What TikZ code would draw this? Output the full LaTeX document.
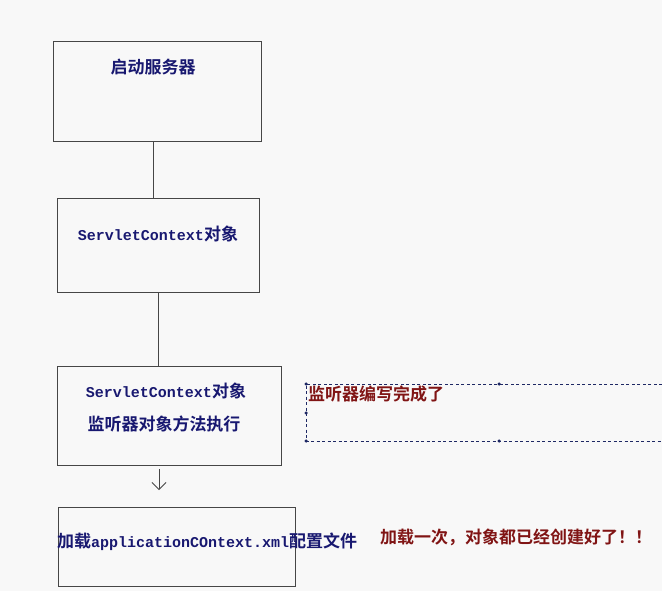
\documentclass[tikz,border=0pt]{standalone}
\usepackage{fontspec}
\setmainfont{Liberation Mono}
\newfontfamily\cjkf{Noto Sans CJK SC}[BoldFont={Noto Sans CJK SC Bold}]
\newcommand\zht[1]{{\cjkf\fontsize{17}{20}\selectfont #1}}
\usetikzlibrary{arrows.meta}
\definecolor{navytxt}{RGB}{24,24,112}
\definecolor{redtxt}{RGB}{128,20,20}
\definecolor{boxline}{RGB}{70,70,70}
\definecolor{bgcol}{RGB}{248,248,248}
\definecolor{dashcol}{RGB}{30,40,100}
\begin{document}
\begin{tikzpicture}[x=1pt,y=-1pt,
  flowbox/.style={draw=boxline, line width=1pt, fill=bgcol, inner sep=0pt},
  conn/.style={draw=boxline, line width=1pt},
  btxt/.style={text=navytxt, inner sep=0pt, font=\fontsize{15}{18}\selectfont\bfseries},
  rtxt/.style={text=redtxt, inner sep=0pt, font=\fontsize{15}{18}\selectfont\bfseries},
  handle/.style={circle, fill=dashcol, inner sep=0pt, minimum size=3.5pt}
]
\fill[bgcol] (0,0) rectangle (662,591);
\useasboundingbox (0,0) rectangle (662,591);

% boxes
\node[flowbox, minimum width=208pt, minimum height=100pt] (b1) at (157,92) {};
\node[flowbox, minimum width=202pt, minimum height=93pt] (b2) at (158,245.5) {};
\node[flowbox, minimum width=224pt, minimum height=99pt] (b3) at (169,415.5) {};
\node[flowbox, minimum width=237pt, minimum height=79pt] (b4) at (176.5,546.5) {};

% texts
\node[btxt] (t1) at (153,67) {\zht{启动服务器}};
\node[btxt] (t2) at (158,234) {ServletContext\zht{对象}};
\node[btxt] (t3a) at (166,391) {ServletContext\zht{对象}};
\node[btxt] (t3b) at (164,424) {\zht{监听器对象方法执行}};
\node[btxt, anchor=west] (t4) at (57,542) {\zht{加载}applicationCOntext.xml\zht{配置文件}};
\node[rtxt, anchor=west] (t5) at (380,537) {\zht{加载一次，对象都已经创建好了！！}};

% connector anchor points
\coordinate (x1) at (153,0);
\coordinate (a1) at (159,490);
\draw[conn] (b1.south -| x1) -- (b2.north -| x1);
\draw[conn] (b2.south) -- (b3.north -| b2.south);
\coordinate (a0) at (159,469);
\draw[conn, line width=0.9pt, -{Straight Barb[length=7pt,width=14pt,line width=0.8pt]}] (a0) -- (a1);

% dashed selection box
\coordinate (d1) at (306,384);
\coordinate (d2) at (306,441);
\coordinate (d0) at (662,384);
\coordinate (d3) at (662,441);
\draw[dashcol, line width=1pt, dash pattern=on 3pt off 2.5pt] (d0) -- (d1) -- (d2) -- (d3);
\foreach \p in {(306,384),(499,384),(306,413),(306,441),(499,441)} \node[handle] at \p {};
\node[rtxt, anchor=north west] (t6) at (308,386) {\zht{监听器编写完成了}};
\end{tikzpicture}
\end{document}
